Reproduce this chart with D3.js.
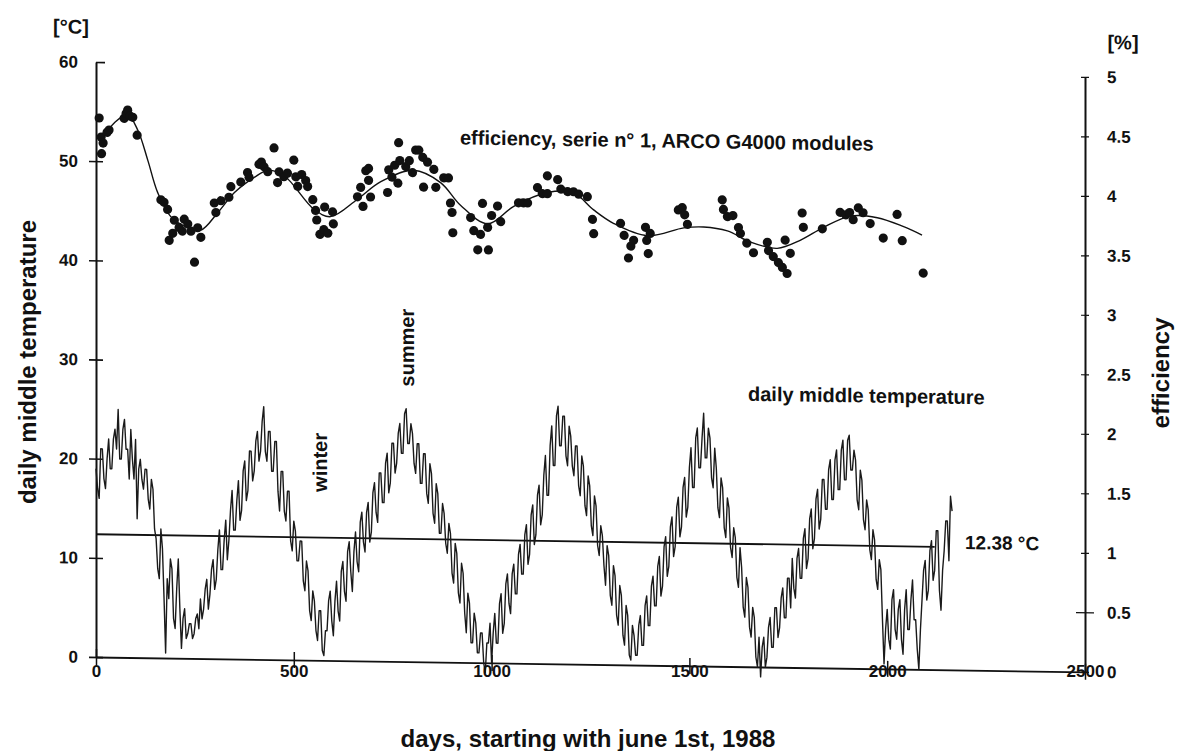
<!DOCTYPE html>
<html>
<head>
<meta charset="utf-8">
<script src="https://cdn.jsdelivr.net/npm/d3@7"></script>
<style>
  body { margin: 0; background: #fff; }
  svg text { font-family: "Liberation Sans", Arial, sans-serif; font-weight: bold; fill: #111; }
  .tick text { font-size: 17px; }
  .axis path, .axis line { stroke: #111; }
  .title { font-size: 24px; }
  .note { font-size: 20px; }
</style>
</head>
<body>
<div id="chart"></div>
<script>
// daily middle temperature, one reading every 4 days from june 1st, 1988 [°C]
const tempStep = 4;
const tempValues = [
  19, 17, 16, 21, 21, 18, 17, 20, 22, 19, 19, 22, 23, 21, 25, 20, 20, 23, 24, 21,
  21, 18, 23, 20, 18, 22, 14, 19, 20, 18, 17, 19, 19, 16, 15, 18, 17, 13, 12, 9,
  8, 13, 11, 6, 0.5, 8, 6, 10, 9, 4, 3, 7, 10, 5, 1, 4, 5, 2, 2.5, 3.5,
  3.5, 2, 2.5, 4, 4.5, 3, 6, 4, 5, 7, 8, 5, 6.5, 9, 10, 7, 8, 11, 13, 9,
  9, 12, 14, 10, 12, 15, 17, 13, 13, 16, 18, 14, 15, 19, 20, 16, 17, 21, 21, 18,
  19, 22, 23, 20, 21, 24, 25.5, 21, 20, 23, 23, 19, 19, 22, 22, 17, 15, 19, 19, 15,
  14, 17, 17, 12, 11, 14, 13, 10, 10, 12, 12, 8, 7, 10, 9, 5, 4, 7, 6, 3,
  2, 5, 5, 1, 0.5, 3, 3, 6, 7, 4, 2.5, 6, 8, 5, 4, 9, 10, 7, 6, 11,
  12, 9, 7, 11, 13, 10, 9, 14, 15, 12, 11, 15, 16, 12, 13, 17, 18, 15, 14, 19,
  19, 16, 16, 20, 21, 17, 18, 22, 22, 19, 20, 23, 24, 21, 21, 25, 25.5, 22, 22, 24,
  23, 20, 19, 22, 22, 18, 18, 21, 21, 17, 16, 20, 19, 15, 14, 18, 17, 13, 13, 16,
  15, 12, 11, 14, 13, 9, 8, 12, 11, 7, 6, 10, 9, 5, 3, 7, 6, 2, 2, 5,
  4, 1, 1, 3, 3, 0, -1, 2, 2, 4, 0, 3, 5, 2, 2, 6, 7, 3, 4, 8,
  9, 6, 5, 9, 10, 7, 7, 11, 12, 9, 9, 13, 14, 10, 11, 15, 16, 12, 13, 17,
  18, 14, 15, 19, 21, 17, 17, 22, 24, 20, 20, 25, 26, 22, 22, 25, 25, 21, 20, 24,
  23, 20, 19, 22, 22, 18, 17, 21, 20, 16, 15, 19, 18, 14, 13, 17, 16, 12, 11, 14,
  13, 10, 8, 12, 11, 7, 6, 10, 9, 5, 4, 8, 7, 3, 2, 6, 5, 1, 0.5, 4,
  3, 1, 1, 4, 5, 2, 2, 6, 7, 4, 4, 8, 9, 6, 6, 10, 11, 7, 8, 12,
  13, 9, 10, 14, 15, 11, 12, 16, 17, 13, 14, 18, 19, 15, 16, 20, 22, 18, 18, 23,
  24, 20, 20, 23, 25.5, 21, 21, 24, 23, 19, 18, 22, 20, 16, 15, 19, 18, 14, 13, 17,
  16, 12, 11, 14, 13, 9, 8, 12, 10, 6, 5, 9, 8, 4, 3, 6, 5, 1, 0, 3,
  -1, 2, 3, 0, 1, 4, 5, 2, 2, 6, 6, 3, 4, 7, 8, 5, 5, 9, 9, 6,
  11, 8, 7, 11, 12, 9, 9, 13, 14, 10, 11, 15, 16, 12, 13, 17, 18, 14, 15, 19,
  19, 16, 16, 20, 21, 17, 17, 21, 22, 18, 18, 22, 23, 19, 19, 23, 23.5, 20, 20, 22,
  21, 17, 16, 20, 19, 15, 14, 17, 16, 12, 11, 14, 13, 9, 8, 11, 10, 5, 0.5, 4,
  6, 3, 2, 7, 8, 4, 3, 6, 7, 3, 1.5, 6, 8, 4, 4, 7, 9, 5, 5, 2,
  0, 4, 7, 10, 11, 7, 8, 12, 13, 9, 10, 14, 14, 8, 6, 10, 12, 15, 15, 11, 17.5, 16
];
const tempMean = 12.38;
const tempMeanEnd = 2120;

// efficiency measurements [%]
const effDays = [
  8, 13, 14, 18, 28, 33, 71, 76, 80, 86, 93, 104,
  164, 172, 181, 185, 194, 198, 210, 218, 223, 232, 240, 249, 257, 265,
  299, 303, 316, 336, 341, 366, 383, 387, 412, 418, 425, 434, 450, 459, 463, 475, 484,
  500, 505, 510, 520, 530, 535, 548, 555, 558, 566, 576, 578, 586, 598, 600,
  661, 669, 675, 682, 689, 689, 694, 737, 740, 748, 755, 763, 765, 768, 783, 792,
  800, 808, 816, 826, 828, 838, 854, 859, 879, 891, 896, 900, 902,
  947, 955, 965, 972, 977, 990, 992, 1000, 1015, 1023, 1068, 1080, 1091,
  1116, 1128, 1141, 1141, 1167, 1175, 1192, 1207, 1220, 1242, 1255, 1258,
  1326, 1335, 1346, 1352, 1359, 1389, 1392, 1396, 1401, 1472, 1482, 1488, 1495,
  1583, 1586, 1596, 1610, 1624, 1629, 1645, 1662, 1697, 1700, 1712, 1725, 1735,
  1742, 1747, 1755, 1785, 1788, 1836, 1881, 1895, 1905, 1914, 1927, 1939, 1957,
  1990, 2025, 2038, 2091
];
const effValues = [
  4.53, 4.37, 4.23, 4.32, 4.41, 4.43, 4.53, 4.57, 4.60, 4.55, 4.54, 4.39,
  3.85, 3.83, 3.77, 3.51, 3.57, 3.68, 3.62, 3.59, 3.69, 3.65, 3.59, 3.33, 3.62, 3.54,
  3.83, 3.75, 3.85, 3.88, 3.97, 4.01, 4.09, 4.05, 4.16, 4.18, 4.14, 4.10, 4.30, 4.01, 4.10, 4.06, 4.09,
  4.20, 4.06, 3.98, 4.08, 4.03, 3.98, 3.87, 3.78, 3.70, 3.58, 3.62, 3.81, 3.59, 3.77, 3.67,
  3.90, 3.98, 3.82, 4.12, 4.04, 4.14, 3.90, 3.94, 4.13, 4.07, 4.17, 4.02, 4.36, 4.21, 4.16, 4.21,
  4.11, 4.30, 4.30, 4.24, 3.99, 4.20, 4.14, 3.99, 4.07, 4.07, 3.86, 3.78, 3.61,
  3.74, 3.63, 3.47, 3.60, 3.86, 3.66, 3.47, 3.76, 3.84, 3.71, 3.87, 3.87, 3.87,
  4.00, 3.95, 4.10, 3.95, 4.07, 3.99, 3.97, 3.97, 3.95, 3.93, 3.74, 3.62,
  3.71, 3.61, 3.42, 3.52, 3.57, 3.68, 3.57, 3.46, 3.63, 3.83, 3.85, 3.79, 3.71,
  3.92, 3.84, 3.78, 3.79, 3.69, 3.64, 3.56, 3.48, 3.57, 3.50, 3.45, 3.40, 3.36,
  3.59, 3.31, 3.48, 3.82, 3.70, 3.69, 3.83, 3.81, 3.83, 3.77, 3.87, 3.83, 3.74,
  3.62, 3.82, 3.60, 3.33
];

// smoothed efficiency curve drawn through the points [%]
const fitDays = [13, 46, 80, 106, 131, 156, 189, 232, 265, 308, 350, 400, 434, 475,
  551, 593, 661, 720, 803, 871, 922, 990, 1056, 1141, 1207, 1258, 1308, 1394,
  1486, 1536, 1596, 1654, 1722, 1780, 1838, 1907, 1975, 2040, 2088];
const fitValues = [4.34, 4.49, 4.56, 4.43, 4.18, 3.91, 3.71, 3.62, 3.60, 3.75, 3.92, 4.05, 4.11, 4.07,
  3.79, 3.73, 3.88, 4.03, 4.13, 4.03, 3.84, 3.69, 3.84, 3.96, 3.96, 3.82, 3.71, 3.61,
  3.68, 3.69, 3.66, 3.57, 3.52, 3.59, 3.70, 3.80, 3.79, 3.72, 3.65];

const dayTicks = [0, 500, 1000, 1500, 2000, 2500];
const tempTicks = [0, 10, 20, 30, 40, 50, 60];
const effTicks = [0, 0.5, 1, 1.5, 2, 2.5, 3, 3.5, 4, 4.5, 5];

const W = 1181, H = 751;
const x = d3.scaleLinear([0, 2500], [96, 1085]);
const yT = d3.scaleLinear([0, 60], [657, 62]);
const yE = d3.scaleLinear([0, 5], [657, 62]);
// the scanned original is slightly tilted: everything inside the frame is sheared
const skewDeg = Math.atan(0.015) * 180 / Math.PI;

const svg = d3.select("#chart").append("svg")
  .attr("width", W).attr("height", H)
  .attr("viewBox", `0 0 ${W} ${H}`);

const g = svg.append("g")
  .attr("transform", `translate(96,0) skewY(${skewDeg}) translate(-96,0)`);

// left axis
const axL = g.append("g").attr("class", "axis")
  .attr("transform", `translate(${x(0)},0)`)
  .call(d3.axisLeft(yT).tickValues(tempTicks).tickSize(7).tickPadding(11).tickSizeOuter(0));
axL.select(".domain").attr("stroke-width", 2);
axL.selectAll(".tick line").attr("x1", 7).attr("stroke-width", 1.6);
axL.selectAll(".tick").filter((d) => d === 60).select("line").attr("x2", 0).attr("x1", 9);

// right axis
const axR = g.append("g").attr("class", "axis")
  .attr("transform", `translate(${x(2500)},0)`)
  .call(d3.axisRight(yE).tickValues(effTicks).tickSize(4).tickPadding(18).tickSizeOuter(0)
    .tickFormat((d) => d));
axR.select(".domain").attr("stroke-width", 2);
axR.selectAll(".tick line").attr("x1", -4).attr("stroke-width", 1.2);
axR.selectAll(".tick").filter((d) => d === 0.5).select("line").attr("x1", -9).attr("x2", 9);

// bottom axis line + ticks (labels are drawn unsheared below)
const axB = g.append("g").attr("class", "axis")
  .attr("transform", `translate(0,${yT(0)})`)
  .call(d3.axisBottom(x).tickValues(dayTicks).tickFormat("").tickSize(8).tickSizeOuter(0));
axB.select(".domain").attr("stroke-width", 1.8);
axB.selectAll(".tick line").attr("y1", -8).attr("stroke-width", 1.5);

svg.append("g").attr("class", "axis")
  .attr("transform", `translate(0,${yT(0)})`)
  .call(d3.axisBottom(x).tickValues(dayTicks).tickFormat(d3.format("d")).tickSize(0).tickPadding(8))
  .call((s) => s.select(".domain").remove());

// mean temperature line
g.append("line")
  .attr("x1", x(0)).attr("x2", x(tempMeanEnd))
  .attr("y1", yT(tempMean)).attr("y2", yT(tempMean))
  .attr("stroke", "#111").attr("stroke-width", 1.8);

// daily middle temperature
g.append("path")
  .datum(tempValues)
  .attr("fill", "none").attr("stroke", "#1a1a1a").attr("stroke-width", 1.4)
  .attr("stroke-linejoin", "round")
  .attr("d", d3.line().x((d, i) => x(i * tempStep)).y((d) => yT(d)));

// efficiency curve and points
const fit = fitDays.map((d, i) => [d, fitValues[i]]);
g.append("path")
  .datum(fit)
  .attr("fill", "none").attr("stroke", "#111").attr("stroke-width", 1.4)
  .attr("d", d3.line().curve(d3.curveCatmullRom).x((d) => x(d[0])).y((d) => yE(d[1])));

g.append("g").selectAll("circle").data(effDays).join("circle")
  .attr("cx", (d) => x(d))
  .attr("cy", (d, i) => yE(effValues[i]))
  .attr("r", 4.6)
  .attr("fill", "#111");

// texts inside the sheared frame
g.append("text").attr("class", "note").attr("x", 71).attr("y", 27)
  .attr("text-anchor", "middle").attr("dominant-baseline", "central").text("[°C]");
g.append("text").attr("class", "note").attr("x", 1123).attr("y", 27)
  .attr("text-anchor", "middle").attr("dominant-baseline", "central").text("[%]");
g.append("text").attr("class", "note").attr("x", 460).attr("y", 139)
  .text("efficiency, serie n° 1, ARCO G4000 modules");
g.append("text").attr("class", "note").attr("x", 748).attr("y", 391)
  .text("daily middle temperature");
g.append("text").attr("class", "note")
  .attr("transform", "translate(320,459) rotate(-90)")
  .attr("text-anchor", "middle").attr("dominant-baseline", "central").text("winter");
g.append("text").attr("class", "note")
  .attr("transform", "translate(407,343) rotate(-90)")
  .attr("text-anchor", "middle").attr("dominant-baseline", "central").text("summer");
g.append("text").attr("class", "note").style("font-size", "19px")
  .attr("x", 965).attr("y", 536).text("12.38 °C");
g.append("text").attr("class", "title")
  .attr("transform", "translate(1161,357) rotate(-90)")
  .attr("text-anchor", "middle").attr("dominant-baseline", "central").text("efficiency");

// axis titles
svg.append("text").attr("class", "title")
  .attr("transform", "translate(27,362) rotate(-90)")
  .attr("text-anchor", "middle").attr("dominant-baseline", "central")
  .text("daily middle temperature");
svg.append("text").attr("class", "title")
  .attr("x", 588).attr("y", 738)
  .attr("text-anchor", "middle").attr("dominant-baseline", "central")
  .text("days, starting with june 1st, 1988");
</script>
</body>
</html>
